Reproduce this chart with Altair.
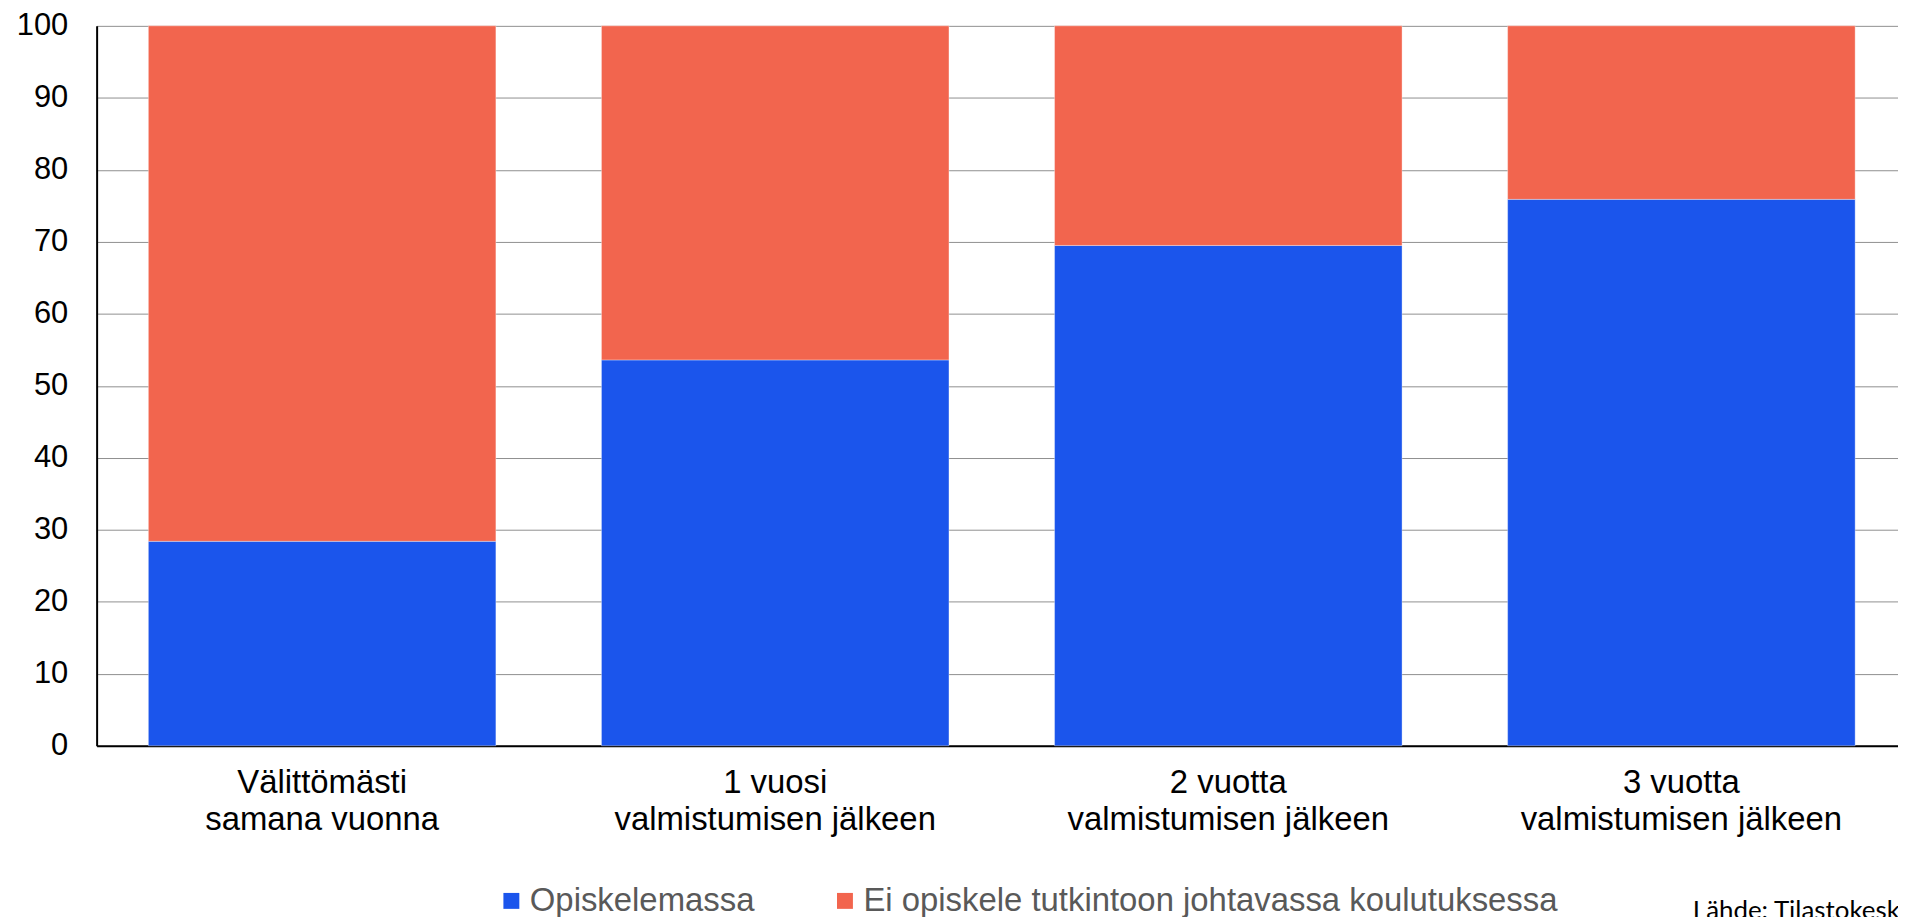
import altair as alt
import pandas as pd

# Categories (two-line labels separated by "|")
categories = [
    "Välittömästi|samana vuonna",
    "1 vuosi|valmistumisen jälkeen",
    "2 vuotta|valmistumisen jälkeen",
    "3 vuotta|valmistumisen jälkeen",
]
series = ["Opiskelemassa", "Ei opiskele tutkintoon johtavassa koulutuksessa"]
opiskelemassa = [28.4, 53.6, 69.5, 75.9]
ei_opiskele = [71.6, 46.4, 30.5, 24.1]
colors = ["#1b55ec", "#f2654e"]

rows = []
for i, c in enumerate(categories):
    rows.append({"kategoria": c, "sarja": series[0], "arvo": opiskelemassa[i], "jarjestys": 0})
    rows.append({"kategoria": c, "sarja": series[1], "arvo": ei_opiskele[i], "jarjestys": 1})
df = pd.DataFrame(rows)

FONT = "Liberation Sans"

chart = (
    alt.Chart(df)
    .mark_bar(stroke="white", strokeWidth=1, strokeOpacity=0.35)
    .encode(
        x=alt.X(
            "kategoria:N",
            sort=categories,
            scale=alt.Scale(paddingInner=0.233, paddingOuter=0.1044, align=0.547),
            axis=alt.Axis(
                title=None,
                labelAngle=0,
                labelExpr="split(datum.label, '|')",
                labelFont=FONT,
                labelFontSize=33,
                labelColor="black",
                labelLineHeight=37,
                labelLimit=1000,
                ticks=False,
                labelPadding=21,
                domainColor="black",
                domainWidth=2,
                grid=False,
            ),
        ),
        y=alt.Y(
            "arvo:Q",
            stack="zero",
            scale=alt.Scale(domain=[0, 100], nice=False),
            axis=alt.Axis(
                values=list(range(0, 101, 10)),
                title=None,
                ticks=False,
                labelPadding=29,
                labelFont=FONT,
                labelFontSize=31,
                labelColor="black",
                gridColor="#8f8f8f",
                gridWidth=1,
                domainColor="black",
                domainWidth=2,
            ),
        ),
        color=alt.Color(
            "sarja:N",
            scale=alt.Scale(domain=series, range=colors),
            legend=alt.Legend(
                title=None,
                orient="none",
                direction="horizontal",
                legendX=400,
                legendY=862,
                symbolType="square",
                symbolSize=256,
                symbolStrokeWidth=0,
                labelFont=FONT,
                labelFontSize=33,
                labelColor="#595959",
                labelOffset=2,
                columnPadding=74,
                padding=0,
                labelLimit=1000,
            ),
        ),
        order=alt.Order("jarjestys:Q"),
    )
    .properties(
        width=1809,
        height=723,
        autosize=alt.AutoSizeParams(type="none"),
        padding={"left": 89, "top": 16, "right": 0, "bottom": 170},
        title=alt.TitleParams(
            text="Lähde: Tilastokeskus",
            orient="bottom",
            anchor="start",
            frame="group",
            font="Lato",
            fontSize=26,
            fontWeight="normal",
            color="black",
            dx=1603,
            offset=-20,
        ),
    )
    .configure_view(stroke=None)
)

chart.save("out.html", embed_options={"renderer": "svg", "actions": False})
